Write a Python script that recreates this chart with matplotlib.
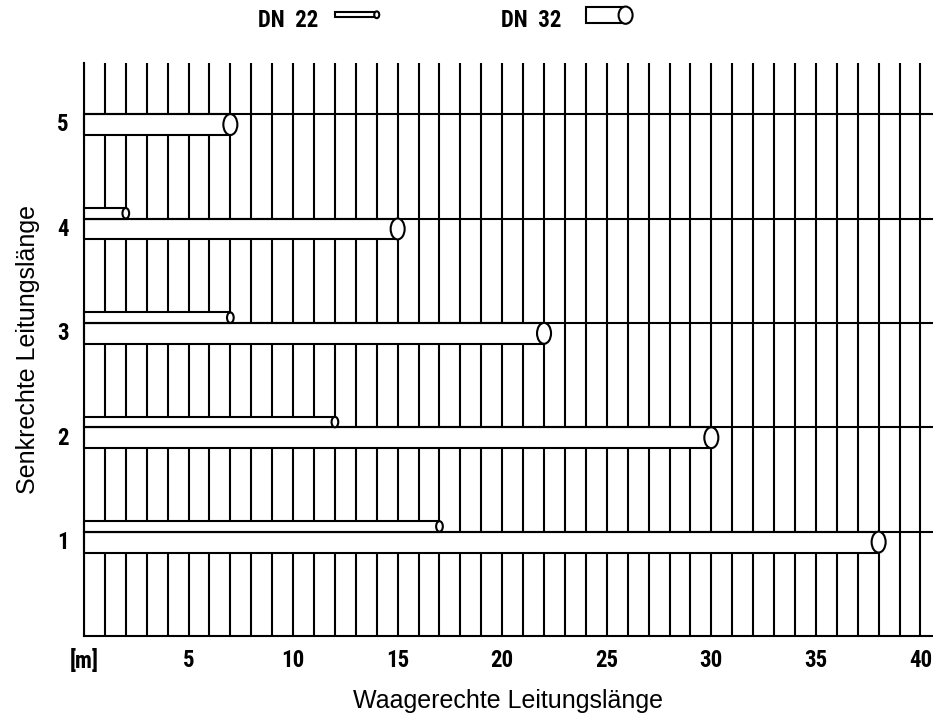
import matplotlib
matplotlib.use('Agg')
import matplotlib.pyplot as plt
from matplotlib.patches import Rectangle, Ellipse

# data: pipe lengths per vertical level
levels = [1, 2, 3, 4, 5]
dn22_len = [17, 12, 7, 2, 0]
dn32_len = [38, 30, 22, 15, 7]
x_ticks = [0, 5, 10, 15, 20, 25, 30, 35, 40]
x_labels = ['[m]', '5', '10', '15', '20', '25', '30', '35', '40']
y_labels = ['1', '2', '3', '4', '5']

h32 = 0.2
h22 = 0.1
lw = 1.5
tick_font = dict(family=['Roboto Condensed', 'DejaVu Sans'], weight='bold', size=16.5)

fig = plt.figure(figsize=(9.33, 7.19), dpi=100)
ax = fig.add_axes([0.090, 0.1154, 0.910, 0.797])
ax.set_xlim(0, 40.6)
ax.set_ylim(0, 5.49)

# grid
ax.vlines(range(0, 41), 0, 5.49, color='black', lw=lw, zorder=1)
ax.hlines(levels, 0, 40.6, color='black', lw=lw, zorder=3)


def pipe(x_end, y0, h, ew, z=2):
    ax.add_patch(Rectangle((0, y0), x_end, h, facecolor='white', edgecolor='black',
                           lw=lw, zorder=z, clip_on=False))
    ax.add_patch(Ellipse((x_end, y0 + h / 2), ew, h, facecolor='white', edgecolor='black',
                         lw=lw, zorder=z + 1, clip_on=False))


for lv, l22, l32 in zip(levels, dn22_len, dn32_len):
    pipe(l32, lv - h32, h32, 0.67)
    if l22 > 0:
        pipe(l22, lv, h22, 0.32)

for s in ['top', 'right']:
    ax.spines[s].set_visible(False)
ax.spines['left'].set_linewidth(lw)
ax.spines['bottom'].set_linewidth(lw)
ax.spines['left'].set_zorder(5)

ax.set_xticks(x_ticks)
ax.set_xticklabels(x_labels, **tick_font)
ax.set_yticks([lv - 0.08 for lv in levels])
ax.set_yticklabels(y_labels, **tick_font)
ax.tick_params(axis='x', length=0, pad=9)
ax.tick_params(axis='y', length=0, pad=11)

ax.set_xlabel('Waagerechte Leitungslänge', fontsize=18, family='Liberation Sans', labelpad=12)
ax.set_ylabel('Senkrechte Leitungslänge', fontsize=18, family='Liberation Sans', labelpad=12)

# legend above the plot
ax.text(9.76, 5.90, 'DN  22', ha='center', va='center', clip_on=False, **tick_font)
ax.add_patch(Rectangle((12.0, 5.93), 2.0, 0.045, facecolor='white', edgecolor='black',
                       lw=lw, clip_on=False))
ax.add_patch(Ellipse((14.0, 5.952), 0.24, 0.065, facecolor='white', edgecolor='black',
                     lw=lw, clip_on=False))
ax.text(21.4, 5.90, 'DN  32', ha='center', va='center', clip_on=False, **tick_font)
ax.add_patch(Rectangle((24.0, 5.87), 1.9, 0.155, facecolor='white', edgecolor='black',
                       lw=lw, clip_on=False))
ax.add_patch(Ellipse((25.9, 5.948), 0.67, 0.165, facecolor='white', edgecolor='black',
                     lw=lw, clip_on=False))

fig.savefig('out.png', dpi=100)
